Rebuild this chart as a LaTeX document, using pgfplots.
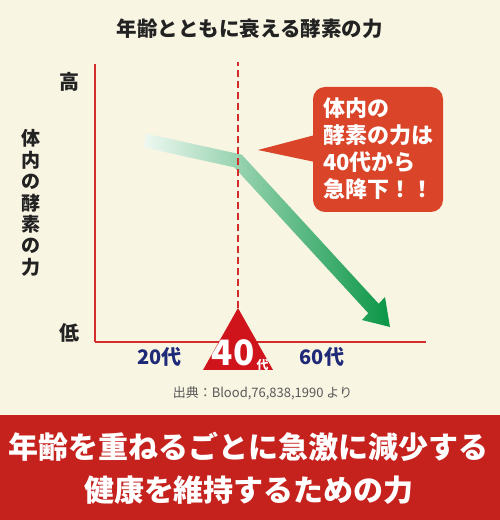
\documentclass[border=0pt]{standalone}
\usepackage{pgfplots}
\pgfplotsset{compat=1.18}
\usepackage{fontspec}
\setmainfont{Noto Sans CJK JP}
\definecolor{bg}{HTML}{F9F5E3}
\definecolor{banner}{HTML}{C5221E}
\definecolor{axisred}{HTML}{D42B2B}
\definecolor{tri}{HTML}{D0141C}
\definecolor{callout}{HTML}{DA4529}
\definecolor{navy}{HTML}{1E2A78}
\definecolor{glight}{HTML}{EEF8F1}
\definecolor{gmid}{HTML}{45B176}
\definecolor{gdark}{HTML}{0A9646}
\definecolor{ink}{HTML}{222222}

\begin{document}
\begin{tikzpicture}
\fill[bg] (0,0) rectangle (500pt,520pt);
\fill[banner] (0,0) rectangle (500pt,105pt);
\begin{axis}[
    at={(95pt,178pt)}, anchor=south west,
    scale only axis, width=331pt, height=278pt,
    xmin=4.25, xmax=87, ymin=0, ymax=100,
    axis lines=left,
    axis line style={-, draw=axisred, line width=1.3pt},
    major tick length=0pt,
    xtick={20.4,61}, xticklabels={20代,60代},
    ytick={93.5,3.4}, yticklabels={高,低},
    xticklabel style={anchor=center, yshift=-15pt, text=navy,
        font=\bfseries\fontsize{20}{24}\selectfont},
    yticklabel style={anchor=center, xshift=-25.5pt, text=ink,
        font=\bfseries\fontsize{20}{24}\selectfont},
    every axis title shift=0pt,
    title={年齢とともに衰える酵素の力},
    title style={at={(axis description cs:0.468,1.128)}, anchor=center,
        text=ink, font=\bfseries\fontsize{20.5}{24}\selectfont},
    ylabel={体\\内\\の\\酵\\素\\の\\力},
    ylabel style={at={(axis description cs:-0.193,0.5)}, anchor=center,
        rotate=-90, align=center, text=ink,
        font=\bfseries\fontsize{19}{21.4}\selectfont},
    clip=false,
]
% green arrow, outline
\addplot[draw=none, left color=glight, middle color=gmid, right color=gdark]
    coordinates {
    (17.13,74.93) (40.93,67.41) (75.18,13.74) (76.75,16.19) (78.0,5.40)
    (71.0,7.91) (72.58,10.36) (39.08,62.81) (16.38,70.04)
    } -- cycle;
% dashed line at 40
\addplot[axisred, line width=2.6pt, dash pattern=on 7pt off 4pt]
    coordinates {(40,12.2) (40,100.7)};
% red triangle marker
\addplot[draw=none, fill=tri]
    coordinates {(31.25,-10.07) (40,12.23) (48.75,-10.07)} -- cycle;
\end{axis}

\node[text=white, font=\bfseries\fontsize{35}{36}\selectfont, anchor=center,
    inner sep=0pt] at (233pt,167.5pt) {40};
\node[text=white, font=\bfseries\fontsize{12}{14}\selectfont, anchor=center,
    inner sep=0pt] at (262.5pt,155pt) {代};

% callout
\fill[callout, rounded corners=12pt] (313pt,433pt) rectangle (443pt,308pt);
\fill[callout] (258pt,370pt) -- (315pt,385pt) -- (315pt,358pt) -- cycle;
\begin{scope}[every node/.style={anchor=base west, inner sep=0pt, text=white,
    font=\bfseries\fontsize{22}{27}\selectfont}]
\node at (323pt,403pt) {体内の};
\node at (323pt,376pt) {酵素の力は};
\node at (323pt,349pt) {40代から};
\node at (323pt,322pt) {急降下！！};
\end{scope}

\node[anchor=base, inner sep=0pt, text=ink!75, font=\fontsize{13}{15}\selectfont]
    at (262.5pt,122.2pt) {出典：Blood,76,838,1990 より};

\node[anchor=base, inner sep=0pt, text=white, font=\bfseries\fontsize{30}{34}\selectfont]
    at (249pt,61pt) {年齢を重ねるごとに急激に減少する};
\node[anchor=base, inner sep=0pt, text=white, font=\bfseries\fontsize{30}{34}\selectfont]
    at (249pt,19pt) {健康を維持するための力};
\end{tikzpicture}
\end{document}
